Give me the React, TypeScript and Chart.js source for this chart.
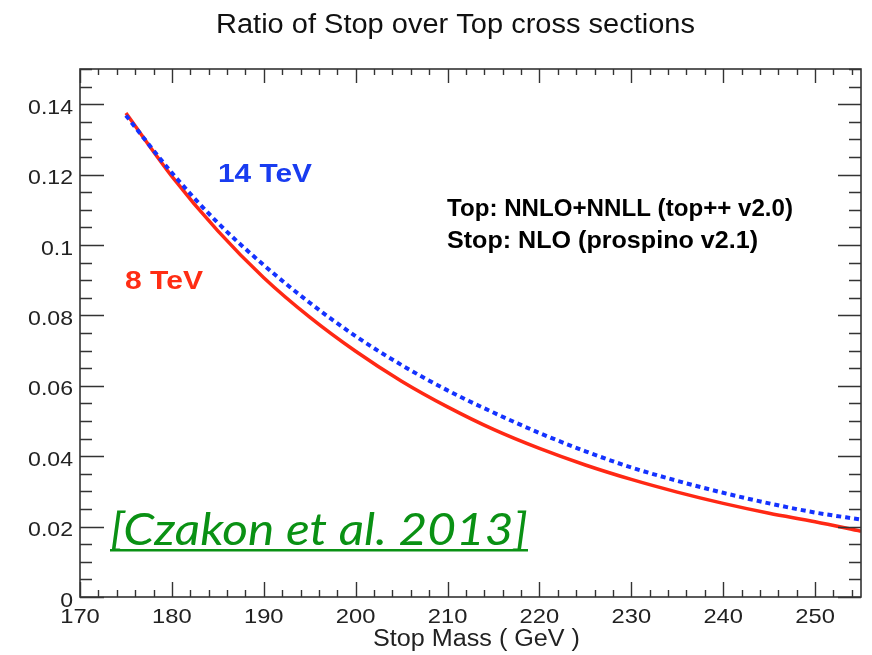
import { useEffect, useRef } from "react";
import { Chart, registerables } from "chart.js";

Chart.register(...registerables);

// Stop mass grid (GeV) and the stop/top cross-section ratio at each collider energy
const stopMass = [175, 180, 185, 190, 195, 200, 205, 210, 215, 220, 225, 230, 235, 240, 245, 250, 255];
const ratio8TeV = [0.1375, 0.1195, 0.1040, 0.0907, 0.0795, 0.0698, 0.0613, 0.0540, 0.0476, 0.0422, 0.0375, 0.0334, 0.0298, 0.0266, 0.0238, 0.0214, 0.0187];
const ratio14TeV = [0.1368, 0.1205, 0.1063, 0.0943, 0.0836, 0.0741, 0.0659, 0.0587, 0.0524, 0.0466, 0.0414, 0.0368, 0.0330, 0.0296, 0.0266, 0.0240, 0.0220];

// Axis ticks
const xMajorTicks = [170, 180, 190, 200, 210, 220, 230, 240, 250];
const xTickLabels = ["170", "180", "190", "200", "210", "220", "230", "240", "250"];
const yMajorTicks = [0, 0.02, 0.04, 0.06, 0.08, 0.1, 0.12, 0.14];
const yTickLabels = ["0", "0.02", "0.04", "0.06", "0.08", "0.1", "0.12", "0.14"];

const X_MIN = 170;
const X_MAX = 255;
const Y_MIN = 0;
const Y_MAX = 0.15;

const SANS = '"Liberation Sans", Arial, Helvetica, sans-serif';

function drawText(
  ctx: CanvasRenderingContext2D,
  text: string,
  x: number,
  baseline: number,
  size: number,
  opts: { color: string; weight?: string; style?: string; family?: string; align?: CanvasTextAlign; width?: number; sx?: number }
) {
  ctx.save();
  ctx.font = `${opts.style ?? "normal"} ${opts.weight ?? "normal"} ${size}px ${opts.family ?? SANS}`;
  const w = ctx.measureText(text).width;
  const sx = opts.width ? opts.width / w : opts.sx ?? 1;
  ctx.translate(x, baseline);
  ctx.scale(sx, 1);
  ctx.textAlign = opts.align ?? "left";
  ctx.textBaseline = "alphabetic";
  ctx.fillStyle = opts.color;
  ctx.fillText(text, 0, 0);
  ctx.restore();
}

const framePlugin = {
  id: "rootFrame",
  afterDraw(chart: Chart) {
    const ctx = chart.ctx;
    const { left, right, top, bottom } = chart.chartArea;
    const xs = chart.scales.x;
    const ys = chart.scales.y;
    const axisColor = "#333";

    ctx.save();
    ctx.strokeStyle = axisColor;
    ctx.lineWidth = 1.6;
    ctx.strokeRect(left, top, right - left, bottom - top);

    ctx.lineWidth = 1.4;
    ctx.beginPath();
    // x ticks (bottom and top), minor every 2 GeV
    for (let v = X_MIN; v <= X_MAX + 1e-9; v += 2) {
      const px = Math.round(xs.getPixelForValue(v)) + 0.5;
      const major = Math.abs(v % 10) < 1e-9;
      const lb = major ? 15 : 7;
      const lt = major ? 14 : 6;
      ctx.moveTo(px, bottom);
      ctx.lineTo(px, bottom - lb);
      ctx.moveTo(px, top);
      ctx.lineTo(px, top + lt);
    }
    // y ticks (left and right), minor every 0.005
    for (let i = 0; i <= 30; i++) {
      const v = i * 0.005;
      const py = Math.round(ys.getPixelForValue(v)) + 0.5;
      const major = i % 4 === 0;
      const ll = major ? 24 : 12;
      const lr = major ? 23 : 12;
      ctx.moveTo(left, py);
      ctx.lineTo(left + ll, py);
      ctx.moveTo(right, py);
      ctx.lineTo(right - lr, py);
    }
    ctx.stroke();
    ctx.restore();

    // tick labels
    xMajorTicks.forEach((v, i) => {
      drawText(ctx, xTickLabels[i], xs.getPixelForValue(v), 623, 21, { color: "#222", align: "center", sx: 1.13 });
    });
    yMajorTicks.forEach((v, i) => {
      drawText(ctx, yTickLabels[i], 73, ys.getPixelForValue(v) + 9.5, 21, { color: "#222", align: "right", sx: 1.1 });
    });

    // titles
    drawText(ctx, "Ratio of Stop over Top cross sections", 216, 33, 27, { color: "#111", width: 479 });
    drawText(ctx, "Stop Mass ( GeV )", 373, 646, 23, { color: "#222", width: 207 });

    // annotations
    drawText(ctx, "14 TeV", 218, 182, 26, { color: "rgb(25,60,240)", weight: "bold", width: 94 });
    drawText(ctx, "8 TeV", 125, 289, 26, { color: "rgb(255,45,20)", weight: "bold", width: 78 });
    drawText(ctx, "Top: NNLO+NNLL (top++ v2.0)", 447, 216, 24, { color: "#000", weight: "bold", width: 346 });
    drawText(ctx, "Stop: NLO (prospino v2.1)", 447, 248, 24, { color: "#000", weight: "bold", width: 311 });

    // citation
    const green = "rgb(10,145,20)";
    drawText(ctx, "[Czakon et al. 2013]", 110, 545, 45, {
      color: green,
      style: "italic",
      family: 'Lato, "Open Sans", sans-serif',
      width: 418,
    });
    ctx.save();
    ctx.fillStyle = green;
    ctx.fillRect(110, 549, 418, 2.5);
    ctx.restore();
  },
};

export default function App() {
  const canvasRef = useRef<HTMLCanvasElement | null>(null);

  useEffect(() => {
    const canvas = canvasRef.current;
    if (!canvas) return;
    const chart = new Chart(canvas, {
      type: "line",
      data: {
        datasets: [
          {
            label: "14 TeV",
            data: stopMass.map((m, i) => ({ x: m, y: ratio14TeV[i] })),
            borderColor: "rgb(20,50,255)",
            borderWidth: 4,
            borderDash: [5, 4],
            pointRadius: 0,
            cubicInterpolationMode: "monotone",
            fill: false,
            order: 0,
          },
          {
            label: "8 TeV",
            data: stopMass.map((m, i) => ({ x: m, y: ratio8TeV[i] })),
            borderColor: "rgb(255,40,20)",
            borderWidth: 3.5,
            pointRadius: 0,
            cubicInterpolationMode: "monotone",
            fill: false,
            order: 1,
          },
        ],
      },
      options: {
        responsive: false,
        animation: false,
        devicePixelRatio: 1,
        layout: { padding: { left: 80, top: 69, right: 11, bottom: 58 } },
        plugins: { legend: { display: false }, tooltip: { enabled: false }, title: { display: false } },
        scales: {
          x: { type: "linear", min: X_MIN, max: X_MAX, display: false },
          y: { type: "linear", min: Y_MIN, max: Y_MAX, display: false },
        },
      },
      plugins: [framePlugin],
    });
    return () => chart.destroy();
  }, []);

  return (
    <div style={{ position: "fixed", left: 0, top: 0, width: 872, height: 655, background: "#fff" }}>
      <canvas ref={canvasRef} width={872} height={655} />
    </div>
  );
}
